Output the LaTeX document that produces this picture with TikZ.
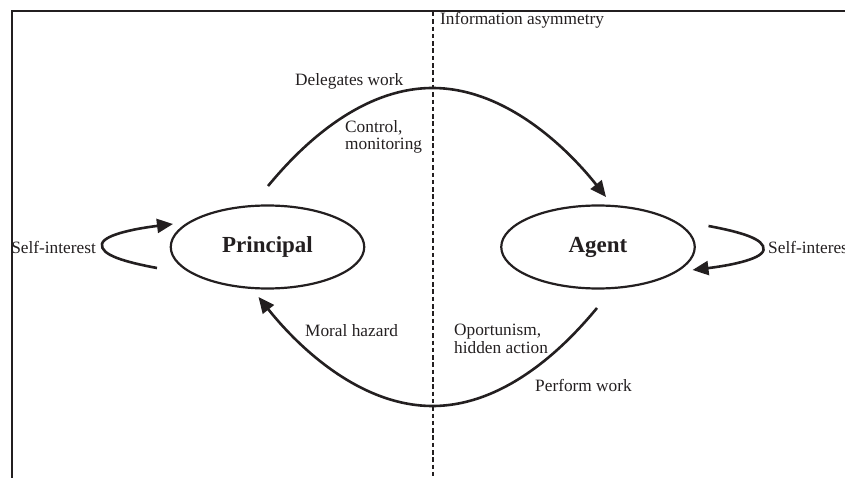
\documentclass[tikz,border=0pt]{standalone}
\usepackage{fontspec}
\setmainfont{Liberation Serif}
\usetikzlibrary{arrows.meta,shapes.geometric,calc}
\definecolor{ink}{HTML}{231F20}
\begin{document}
\begin{tikzpicture}[x=1pt,y=-1pt,
  party/.style={ellipse,draw=ink,line width=2.2pt,minimum width=193.5pt,
    minimum height=83pt,inner sep=0pt,text height=11.5pt,text depth=0pt,
    font=\fontsize{23}{25}\selectfont\bfseries,text=ink},
  flow/.style={draw=ink,line width=2.6pt,-{Triangle[length=16pt,width=14pt]}},
  note/.style={font=\fontsize{17.3}{17.3}\selectfont,text=ink,inner sep=0pt,align=left},
  divider/.style={draw=ink,line width=2pt,dash pattern=on 4.5pt off 2.8pt}]
\useasboundingbox (0,0) rectangle (845,478);
\clip (0,0) rectangle (845,478);

% open frame: top and left edges only
\draw[ink,line width=2pt] (11.5,490) -- (11.5,11) -- (860,11);

% information asymmetry divider
\coordinate (divtop) at (432.5,12);
\coordinate (divbot) at (432.5,490);
\draw[divider] (divtop) -- (divbot);
\node[note,anchor=base west] (asym) at (440,25) {Information asymmetry};

% the two parties
\node[party] (P) at (267.5,247) {Principal};
\node[party] (A) at (598,247) {Agent};

% delegation arc over the top, performance arc underneath
\coordinate (crest) at (432.5,88);
\coordinate (trough) at (432.5,406);
\draw[flow] ([shift={(0.5,-61)}]P.center) parabola bend (crest) ([shift={(8,-50)}]A.center);
\draw[flow] ([shift={(-1,61)}]A.center) parabola bend (trough) ([shift={(-9,50)}]P.center);

% self-interest loops
\begin{scope}[shift={(P.center)}]
  \draw[flow] (-110.5,21) .. controls (-142.5,15) and (-167.5,8) .. (-165.5,-3)
    .. controls (-163.5,-13) and (-127.5,-19) .. (-94.5,-23);
\end{scope}
\begin{scope}[shift={(A.center)}]
  \draw[flow] (110.5,-21) .. controls (142.5,-15) and (167.5,-8) .. (165.5,3)
    .. controls (163.5,13) and (127.5,19) .. (94.5,23);
\end{scope}

% labels (multi-line labels are placed by their last baseline)
\node[note,anchor=base west] (deleg) at (295,86) {Delegates work};
\node[note,anchor=base west] (ctrl) at (345,150) {Control,\\monitoring};
\node[note,anchor=base west] (moral) at (305,336) {Moral hazard};
\node[note,anchor=base west] (oport) at (454,353) {Oportunism,\\hidden action};
\node[note,anchor=base west] (perf) at (535,391) {Perform work};
\node[note,anchor=base east] (selfP) at (96,253) {Self-interest};
\node[note,anchor=base west] (selfA) at (768,253) {Self-interest};
\end{tikzpicture}
\end{document}
